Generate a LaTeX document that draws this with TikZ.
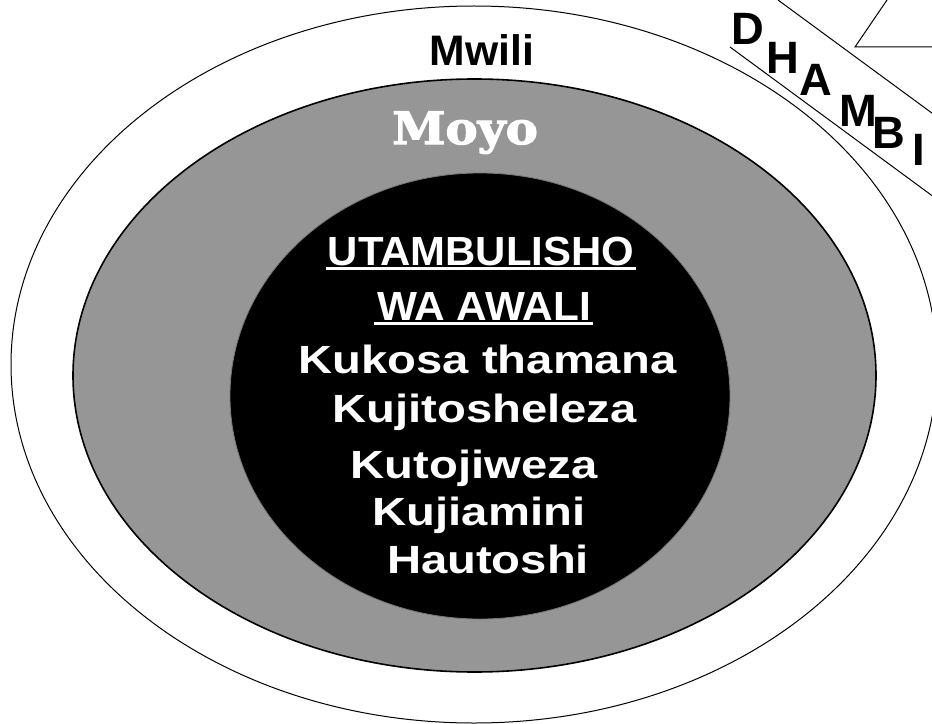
\documentclass[tikz,border=0pt]{standalone}
\usepackage{fontspec}
\setmainfont{Liberation Sans}
\newfontfamily\moyofont{DejaVu Serif}[BoldFeatures={FakeBold=2.5}]
\usetikzlibrary{shapes.geometric}
\definecolor{ringgray}{RGB}{150,150,150}
\definecolor{edgegray}{RGB}{120,120,120}
\tikzset{
  ring/.style={ellipse, inner sep=0pt, outer sep=0pt},
  darklbl/.style={inner sep=0pt, anchor=base, text=black, font=\bfseries\fontsize{32}{36}\selectfont},
  headlbl/.style={inner sep=0pt, anchor=base, text=white, font=\bfseries\fontsize{30.5}{36}\selectfont},
  bodylbl/.style={inner sep=0pt, anchor=base, text=white, font=\bfseries\fontsize{29.5}{34}\selectfont},
  letterlbl/.style={inner sep=0pt, anchor=base, text=black, font=\bfseries\fontsize{34}{38}\selectfont},
  ulline/.style={white, line width=2pt},
  thinline/.style={black, line width=0.75pt}
}
\newcommand{\wide}[1]{\scalebox{1.2}[1]{#1}}
\begin{document}
\begin{tikzpicture}[x=0.75pt,y=-0.75pt]
\useasboundingbox (0,0) rectangle (932,724);
\fill[white] (0,0) rectangle (932,724);
% rings
\node[ring, draw=black, line width=0.75pt, fill=white, minimum width=694.5pt, minimum height=537.75pt] (mwiliring) at (474,364.5) {};
\node[ring, draw=black, line width=1.2pt, fill=ringgray, minimum width=602.25pt, minimum height=444.75pt] (moyoring) at (474.5,375.5) {};
\node[ring, draw=edgegray, line width=0.6pt, fill=black, minimum width=375pt, minimum height=334.5pt] (corering) at (480,396) {};
% labels
\node[darklbl] (mwili) at (482,65) {Mwili};
\node[inner sep=0pt, anchor=base, text=white, font=\moyofont\bfseries\fontsize{33.5}{38}\selectfont] (moyo) at (465,144) {\scalebox{1.08}[1]{Moyo}};
\node[headlbl] (h1) at (481,265) {\scalebox{1.03}[1]{UTAMBULISHO}};
\node[headlbl] (h2) at (484,320) {\scalebox{1.04}[1]{WA AWALI}};
\draw[ulline] ([xshift=-1.5pt,yshift=-2.5pt]h1.base west) -- ([xshift=1pt,yshift=-2.5pt]h1.base east);
\draw[ulline] ([xshift=-2pt,yshift=-2.5pt]h2.base west) -- ([xshift=1.5pt,yshift=-2.5pt]h2.base east);
\node[bodylbl] (b1) at (487.5,373) {\wide{Kukosa thamana}};
\node[bodylbl] (b2) at (484.5,422) {\wide{Kujitosheleza}};
\node[bodylbl] (b3) at (474,478) {\wide{Kutojiweza}};
\node[bodylbl] (b4) at (479,525) {\wide{Kujiamini}};
\node[bodylbl] (b5) at (488,573) {\wide{Hautoshi}};
% DHAMBI band
\coordinate (bandA1) at (778,0);
\coordinate (bandA2) at (940,119);
\coordinate (bandB1) at (730,47);
\coordinate (bandB2) at (940,201.5);
\draw[thinline] (bandA1) -- (bandA2);
\draw[thinline] (bandB1) -- (bandB2);
\coordinate (triTop) at (887,0);
\coordinate (triCorner) at (855,47);
\coordinate (triEnd) at (940,47);
\draw[thinline] (triTop) -- (triCorner) -- (triEnd);
\node[letterlbl] (dD) at (747.5,45) {D};
\node[letterlbl] (dH) at (782.5,74) {H};
\node[letterlbl] (dA) at (815.5,95) {A};
\node[letterlbl] (dM) at (858.5,127) {M};
\node[letterlbl] (dB) at (889,148) {B};
\node[letterlbl] (dI) at (919,165) {I};
\end{tikzpicture}
\end{document}
